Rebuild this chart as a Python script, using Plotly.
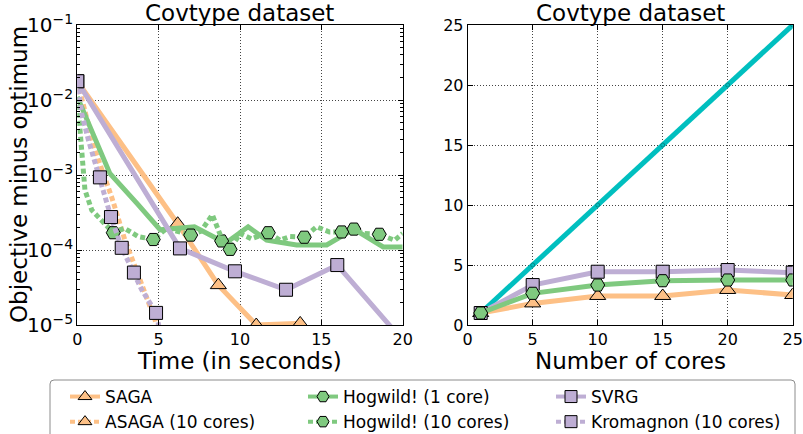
import plotly.graph_objects as go

# ---------------- data: left panel (time in s, objective minus optimum) ----------------
saga_t = [0, 6.17, 8.67, 11.0, 13.7, 16.2]
saga_v = [1.78e-2, 2.24e-4, 3.4e-5, 1.0e-5, 1.05e-5, 1e-7]
saga_mt = [6.17, 8.67, 11.0, 13.7]
saga_mv = [2.24e-4, 3.4e-5, 1.0e-5, 1.05e-5]

asaga_t = [0, 1.09, 2.11, 2.93, 3.55, 4.37, 4.78, 5.3]
asaga_v = [1.78e-2, 2.14e-3, 5.1e-4, 1.35e-4, 6.0e-5, 2.14e-5, 1.17e-5, 4e-6]

hog1_t = [0, 2.0, 3.75, 5.1, 7.2, 8.87, 9.3, 10.5, 11.64, 13.48, 15.33, 17.0, 18.8, 20]
hog1_v = [1.1e-2, 1.05e-3, 4.0e-4, 1.86e-4, 2.04e-4, 1.32e-4, 1.32e-4, 2.04e-4,
          1.35e-4, 1.17e-4, 1.17e-4, 1.9e-4, 1.1e-4, 1.1e-4]
hog1_mt = [8.87, 17.0]
hog1_mv = [1.32e-4, 1.9e-4]

hog10_t = [0, 0.17, 0.27, 0.47, 0.89, 1.5, 2.21, 2.9, 3.75, 4.67, 5.5, 6.97, 7.6, 8.3,
           8.9, 9.39, 10.0, 10.7, 11.74, 12.45, 13.07, 13.95, 14.7, 15.5, 16.25, 17.0,
           17.6, 18.56, 19.5, 20]
hog10_v = [1.1e-2, 4.4e-3, 1.74e-3, 6.3e-4, 3.4e-4, 2.5e-4, 1.70e-4, 1.95e-4, 1.51e-4,
           1.38e-4, 1.95e-4, 1.58e-4, 1.78e-4, 2.95e-4, 1.38e-4, 1.02e-4, 1.66e-4,
           1.41e-4, 1.70e-4, 1.35e-4, 1.51e-4, 1.48e-4, 2.04e-4, 1.74e-4, 1.74e-4,
           1.82e-4, 1.66e-4, 1.62e-4, 1.35e-4, 1.66e-4]
hog10_mt = [2.21, 4.67, 6.97, 9.39, 11.74, 13.95, 16.25, 18.56]
hog10_mv = [1.70e-4, 1.38e-4, 1.58e-4, 1.02e-4, 1.70e-4, 1.48e-4, 1.74e-4, 1.62e-4]

svrg_t = [0, 6.31, 9.69, 12.83, 15.98, 21.0]
svrg_v = [1.78e-2, 1.05e-4, 5.2e-5, 2.95e-5, 6.3e-5, 3.5e-6]
svrg_mt = [0, 6.31, 9.69, 12.83, 15.98]
svrg_mv = [1.78e-2, 1.05e-4, 5.2e-5, 2.95e-5, 6.3e-5]

krom_t = [0, 0.27, 0.68, 1.09, 1.39, 1.7, 2.07, 2.73, 3.48, 3.96, 4.84, 5.3]
krom_v = [1.78e-2, 6.6e-3, 2.95e-3, 1.45e-3, 9.3e-4, 5.1e-4, 2.75e-4, 1.07e-4,
          5.0e-5, 2.95e-5, 1.45e-5, 5e-6]
krom_mt = [0, 1.39, 2.07, 2.73, 3.48, 4.84]
krom_mv = [1.78e-2, 9.3e-4, 2.75e-4, 1.07e-4, 5.0e-5, 1.45e-5]

# ---------------- data: right panel (speedup vs number of cores) ----------------
cores = [1, 5, 10, 15, 20, 25]
ideal_speedup = [1, 5, 10, 15, 20, 25]
asaga_speedup = [1, 1.8, 2.42, 2.42, 2.92, 2.5]
hogwild_speedup = [1, 2.64, 3.33, 3.69, 3.75, 3.75]
kromagnon_speedup = [1, 3.33, 4.44, 4.44, 4.58, 4.36]

tick_left_x = [0, 5, 10, 15, 20]
tick_right = [0, 5, 10, 15, 20, 25]

ORANGE = "#fdc086"
GREEN = "#7fc97f"
PURPLE = "#beaed4"
TEAL = "#00bfbf"
DOT = "5px,3px"
FONT = "DejaVu Sans"

SYM = {"o": "triangle-up", "g": "hexagon2", "p": "square"}
COL = {"o": ORANGE, "g": GREEN, "p": PURPLE}
MSIZE = {"o": 14, "g": 14, "p": 13}

fig = go.Figure()


def add_series(x, y, c, dash, mx=None, my=None, xa="x", ya="y", width=5):
    fig.add_trace(go.Scatter(x=x, y=y, mode="lines", xaxis=xa, yaxis=ya,
                             line=dict(color=COL[c], width=width, dash=dash),
                             showlegend=False, hoverinfo="skip"))
    if mx is not None:
        fig.add_trace(go.Scatter(x=mx, y=my, mode="markers", xaxis=xa, yaxis=ya,
                                 marker=dict(symbol=SYM[c], size=MSIZE[c], color=COL[c],
                                             line=dict(color="black", width=1)),
                                 showlegend=False, hoverinfo="skip"))


# left panel
add_series(saga_t, saga_v, "o", "solid", saga_mt, saga_mv)
add_series(asaga_t, asaga_v, "o", DOT)
add_series(hog1_t, hog1_v, "g", "solid", hog1_mt, hog1_mv)
add_series(hog10_t, hog10_v, "g", DOT, hog10_mt, hog10_mv)
add_series(svrg_t, svrg_v, "p", "solid", svrg_mt, svrg_mv)
add_series(krom_t, krom_v, "p", DOT, krom_mt, krom_mv)

# right panel
fig.add_trace(go.Scatter(x=cores, y=ideal_speedup, mode="lines+markers", xaxis="x2", yaxis="y2",
                         line=dict(color=TEAL, width=5),
                         marker=dict(size=4, color=TEAL, line=dict(color="#006a6a", width=0.6)),
                         showlegend=False, hoverinfo="skip"))
add_series(cores, asaga_speedup, "o", "solid", cores, asaga_speedup, "x2", "y2")
add_series(cores, kromagnon_speedup, "p", "solid", cores, kromagnon_speedup, "x2", "y2")
add_series(cores, hogwild_speedup, "g", "solid", cores, hogwild_speedup, "x2", "y2")

# legend entries (three columns)
legend_items = [
    ("SAGA", "o", "solid", "legend"),
    ("ASAGA (10 cores)", "o", DOT, "legend"),
    ("Hogwild! (1 core)", "g", "solid", "legend2"),
    ("Hogwild! (10 cores)", "g", DOT, "legend2"),
    ("SVRG", "p", "solid", "legend3"),
    ("Kromagnon (10 cores)", "p", DOT, "legend3"),
]
for name, c, dash, lg in legend_items:
    fig.add_trace(go.Scatter(x=[None], y=[None], mode="lines+markers", name=name, legend=lg,
                             line=dict(color=COL[c], width=4, dash=dash),
                             marker=dict(symbol=SYM[c], size=12, color=COL[c],
                                         line=dict(color="black", width=1))))

W, H = 803, 434
lx0, lx1 = 77.3 / W, 402.7 / W
rx0, rx1 = 467.7 / W, 792.7 / W
y0, y1 = 1 - 325 / H, 1 - 25 / H

axis_common = dict(showline=True, linecolor="black", linewidth=1, mirror="allticks",
                   ticks="inside", ticklen=5, tickwidth=1, tickcolor="black",
                   showgrid=True, gridcolor="#444", gridwidth=1, griddash="1px,2px",
                   zeroline=False, tickfont=dict(size=16, family=FONT, color="black"))

leg_common = dict(orientation="v", yanchor="top", xanchor="left", y=1 - 379 / H,
                  bgcolor="rgba(0,0,0,0)", borderwidth=0, tracegroupgap=0,
                  font=dict(size=17, family=FONT, color="black"), itemclick=False)

# legend frame (rounded top corners, runs past the bottom edge)
fx0, fx1 = 50 / W, 795 / W
fy1 = 1 - 380 / H
fyb = -0.1
rx, ry = 4 / W, 4 / H
frame_path = (f"M{fx0},{fyb} L{fx0},{fy1 - ry} Q{fx0},{fy1} {fx0 + rx},{fy1} "
              f"L{fx1 - rx},{fy1} Q{fx1},{fy1} {fx1},{fy1 - ry} L{fx1},{fyb}")

ann_font = dict(size=23, family=FONT, color="black")
fig.update_layout(
    width=W, height=H, autosize=False,
    margin=dict(l=0, r=0, t=0, b=0, pad=0, autoexpand=False),
    paper_bgcolor="white", plot_bgcolor="white",
    font=dict(family=FONT, color="black"),
    xaxis=dict(domain=[lx0, lx1], range=[0, 20], tickvals=tick_left_x, anchor="y", **axis_common),
    yaxis=dict(domain=[y0, y1], type="log", range=[-5, -1], dtick=1, exponentformat="power",
               anchor="x",
               minor=dict(ticks="inside", ticklen=3, tickcolor="black", showgrid=False),
               **axis_common),
    xaxis2=dict(domain=[rx0, rx1], range=[0, 25], tickvals=tick_right, anchor="y2", **axis_common),
    yaxis2=dict(domain=[y0, y1], range=[0, 25], tickvals=tick_right, anchor="x2", **axis_common),
    legend=dict(x=65 / W, **leg_common),
    legend2=dict(x=303 / W, **leg_common),
    legend3=dict(x=551 / W, **leg_common),
    shapes=[dict(type="path", xref="paper", yref="paper", path=frame_path,
                 line=dict(color="#8c8c8c", width=1))],
    annotations=[
        dict(text="Covtype dataset", x=(lx0 + lx1) / 2, y=1 - 13 / H, xref="paper", yref="paper",
             showarrow=False, font=ann_font, xanchor="center", yanchor="middle"),
        dict(text="Covtype dataset", x=(rx0 + rx1) / 2, y=1 - 13 / H, xref="paper", yref="paper",
             showarrow=False, font=ann_font, xanchor="center", yanchor="middle"),
        dict(text="Time (in seconds)", x=(lx0 + lx1) / 2, y=1 - 361 / H, xref="paper", yref="paper",
             showarrow=False, font=ann_font, xanchor="center", yanchor="middle"),
        dict(text="Number of cores", x=(rx0 + rx1) / 2, y=1 - 361 / H, xref="paper", yref="paper",
             showarrow=False, font=ann_font, xanchor="center", yanchor="middle"),
        dict(text="Objective minus optimum", x=19 / W, y=(y0 + y1) / 2, xref="paper", yref="paper",
             showarrow=False, font=ann_font, textangle=-90, xanchor="center", yanchor="middle"),
    ],
)

fig.write_html("out.html", config={"displayModeBar": False, "staticPlot": True},
               post_script="document.body.style.margin='0px';")
